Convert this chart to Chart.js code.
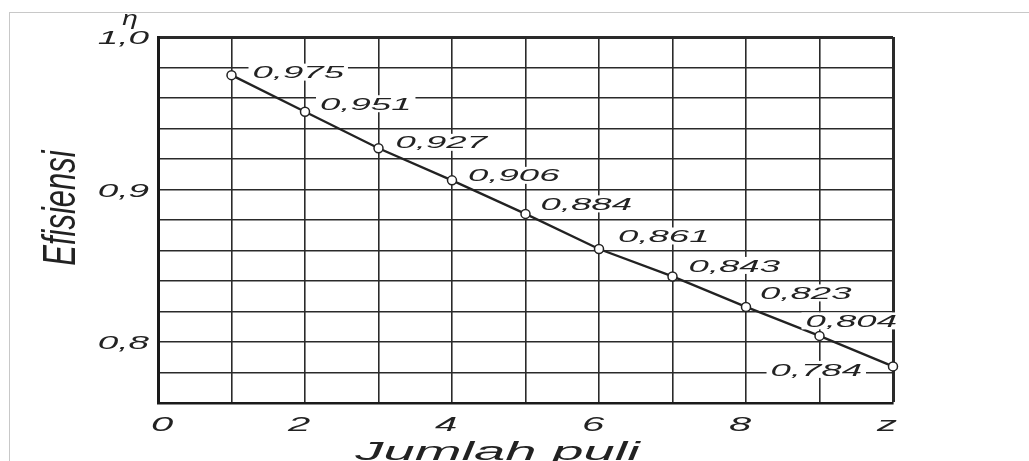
<!DOCTYPE html>
<html>
<head>
  <title>Efisiensi - Jumlah puli</title>
  <script src="https://cdn.jsdelivr.net/npm/chart.js"></script>
  <style>
    html, body { margin: 0; padding: 0; background: #fff; overflow: hidden; }
    #myChart { position: absolute; left: 0; top: 0; }
    #frame { position: absolute; left: 9px; top: 12px; right: 0; bottom: 0;
             border-top: 1px solid #c8c8c8; border-left: 1px solid #c8c8c8; pointer-events: none; }
  </style>
</head>
<body>
  <canvas id="myChart" width="1029" height="461"></canvas>
  <div id="frame"></div>

  <script>
    // data
    const jumlahPuli = [1, 2, 3, 4, 5, 6, 7, 8, 9, 10];
    const efisiensi = [0.975, 0.951, 0.927, 0.906, 0.884, 0.861, 0.843, 0.823, 0.804, 0.784];
    const labelEfisiensi = ['0,975', '0,951', '0,927', '0,906', '0,884', '0,861', '0,843', '0,823', '0,804', '0,784'];

    const xTickValues = [0, 2, 4, 6, 8, 10];
    const xTickLabels = ['0', '2', '4', '6', '8', 'z'];
    const yTickValues = [1.0, 0.9, 0.8];
    const yTickLabels = ['1,0', '0,9', '0,8'];

    const xMin = 0, xMax = 10;
    const yMin = 0.76, yMax = 1.0;

    const ink = '#222';
    const fontFam = '"Liberation Sans", Arial, sans-serif';

    // teks yang "ditarik" melebar (seperti hasil scan)
    function stretchedText(ctx, text, x, cy, o) {
      ctx.save();
      ctx.font = 'italic ' + o.size + 'px ' + fontFam;
      ctx.textAlign = 'left';
      ctx.textBaseline = 'alphabetic';
      const w = ctx.measureText(text).width * o.sx;
      let left = x;
      if (o.align === 'right') left = x - w;
      else if (o.align === 'center') left = x - w / 2;
      if (o.bg) {
        ctx.fillStyle = '#fff';
        ctx.fillRect(left - 4, cy - o.size * 0.5, w + 8, o.size);
      }
      ctx.fillStyle = ink;
      ctx.translate(left, cy + o.size * 0.36);
      ctx.scale(o.sx, 1);
      ctx.fillText(text, 0, 0);
      ctx.restore();
    }

    // posisi label relatif terhadap titik [dx, dy, align]
    const labelAnchor = [
      [21, -3, 'left'], [15, -8, 'left'], [17, -6, 'left'], [16, -5, 'left'], [15, -10, 'left'],
      [19, -13, 'left'], [16, -11, 'left'], [14, -14, 'left'], [-14, -15, 'left'], [-31, 3, 'right']
    ];

    const textPlugin = {
      id: 'textPlugin',
      afterDatasetsDraw(chart) {
        const ctx = chart.ctx;
        const xs = chart.scales.x, ys = chart.scales.y;
        const area = chart.chartArea;

        // label nilai efisiensi
        jumlahPuli.forEach((n, i) => {
          const px = xs.getPixelForValue(n);
          const py = ys.getPixelForValue(efisiensi[i]);
          const a = labelAnchor[i];
          stretchedText(ctx, labelEfisiensi[i], px + a[0], py + a[1], { size: 17, sx: 2.15, align: a[2], bg: true });
        });

        // tick sumbu y
        yTickValues.forEach((v, i) => {
          stretchedText(ctx, yTickLabels[i], area.left - 9, ys.getPixelForValue(v) + 1, { size: 18, sx: 2.05, align: 'right' });
        });
        // tick sumbu x
        xTickValues.forEach((v, i) => {
          let off = i === 0 ? 4 : -6;
          stretchedText(ctx, xTickLabels[i], xs.getPixelForValue(v) + off, area.bottom + 21, { size: 20, sx: 2.0, align: 'center' });
        });

        // simbol eta
        stretchedText(ctx, 'η', area.left - 28, area.top - 19, { size: 20, sx: 1.4, align: 'center' });

        // judul sumbu x
        stretchedText(ctx, 'Jumlah puli', area.left + (area.right - area.left) * 0.462, area.bottom + 48, { size: 25, sx: 2.25, align: 'center' });

        // judul sumbu y (diputar)
        ctx.save();
        ctx.font = 'italic 31px ' + fontFam;
        ctx.fillStyle = ink;
        ctx.textAlign = 'center';
        ctx.textBaseline = 'middle';
        ctx.translate(area.left - 96, (area.top + area.bottom) / 2 - 12);
        ctx.scale(1.5, 1);
        ctx.rotate(-Math.PI / 2);
        ctx.fillText('Efisiensi', 0, 0);
        ctx.restore();
      }
    };

    const edgeWidth = (max) => (c) => (c.tick && Math.abs(c.tick.value - max) < 1e-6) ? 3 : 1.6;

    const config = {
      type: 'line',
      data: {
        datasets: [{
          label: 'Efisiensi',
          data: jumlahPuli.map((n, i) => ({ x: n, y: efisiensi[i] })),
          borderColor: ink,
          borderWidth: 2.3,
          backgroundColor: '#fff',
          pointRadius: 4.5,
          pointBorderWidth: 1.5,
          pointBorderColor: ink,
          pointBackgroundColor: '#fff',
          tension: 0,
          fill: false,
          clip: false,
        }]
      },
      plugins: [textPlugin],
      options: {
        responsive: false,
        animation: false,
        layout: {
          padding: { left: 158, right: 136, top: 37, bottom: 58 }
        },
        scales: {
          x: {
            type: 'linear',
            min: xMin,
            max: xMax,
            ticks: { display: false, stepSize: 1 },
            grid: { color: '#2a2a2a', lineWidth: edgeWidth(xMax), drawTicks: false },
            border: { display: true, color: '#1a1a1a', width: 2.5 },
          },
          y: {
            min: yMin,
            max: yMax,
            ticks: { display: false, stepSize: 0.02 },
            grid: { color: '#2a2a2a', lineWidth: edgeWidth(yMax), drawTicks: false },
            border: { display: true, color: '#1a1a1a', width: 3 },
          }
        },
        plugins: {
          legend: { display: false },
          tooltip: { enabled: false },
        }
      }
    };

    var myChart = new Chart(document.getElementById('myChart'), config);
  </script>
</body>
</html>
